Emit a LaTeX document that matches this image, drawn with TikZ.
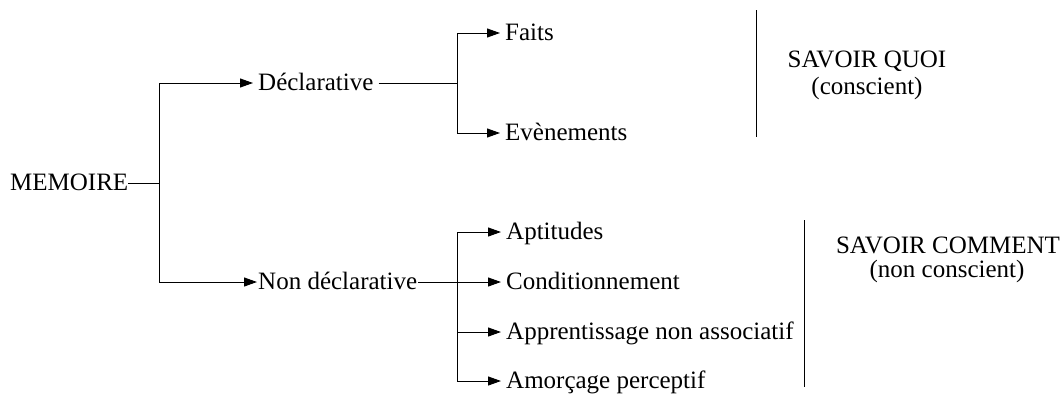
\documentclass[tikz,border=0pt]{standalone}
\usepackage{fontspec}
\setmainfont{Liberation Serif}
\usetikzlibrary{arrows.meta}
\begin{document}
\begin{tikzpicture}[x=1pt,y=-1pt,
  lbl/.style={inner xsep=5pt,inner ysep=0pt,text height=18pt,text depth=3pt,anchor=west,font=\fontsize{25}{30}\selectfont},
  side/.style={inner sep=0pt,text height=18pt,text depth=3pt,anchor=center,font=\fontsize{25}{30}\selectfont},
  conn/.style={line width=1pt},
  arr/.style={line width=1pt,-{Triangle[length=13pt,width=9pt]}}]
\useasboundingbox (0,0) rectangle (1062,394);
% nodes
\node[lbl,inner xsep=0pt] (mem) at (10,183) {MEMOIRE};
\node[lbl] (dec) at (253,83) {Déclarative};
\node[lbl,inner xsep=1pt] (nondec) at (257,282) {Non déclarative};
\node[lbl] (faits) at (500,33) {Faits};
\node[lbl] (even) at (500,133) {Evènements};
\node[lbl] (apt) at (501,232) {Aptitudes};
\node[lbl] (cond) at (501,282) {Conditionnement};
\node[lbl] (app) at (501,332) {Apprentissage non associatif};
\node[lbl] (amor) at (501,381) {Amorçage perceptif};
\node[side] (quoi) at (867,59.5) {SAVOIR QUOI};
\node[side] (consc) at (867,86.5) {(conscient)};
\node[side] (comment) at (948,245.5) {SAVOIR COMMENT};
\node[side] (nonconsc) at (947,269.5) {(non conscient)};
% junctions
\coordinate (j1) at (159,183);
\coordinate (j2) at (457,83);
\coordinate (j3) at (457,282);
% connectors
\draw[conn] (mem.east) -- (j1);
\draw[arr] (j1) |- (dec.west);
\draw[arr] (j1) |- (nondec.west);
\draw[conn] (dec.east) -- (j2);
\draw[arr] (j2) |- (faits.west);
\draw[arr] (j2) |- (even.west);
\draw[arr] (nondec.east) -- (cond.west);
\draw[arr] (j3) |- (apt.west);
\draw[arr] (j3) |- (app.west);
\draw[arr] (j3) |- (amor.west);
% separators
\coordinate (s1a) at (756,10);
\coordinate (s1b) at (756,137);
\coordinate (s2a) at (804,220);
\coordinate (s2b) at (804,387);
\draw[conn] (s1a) -- (s1b);
\draw[conn] (s2a) -- (s2b);
\end{tikzpicture}
\end{document}
